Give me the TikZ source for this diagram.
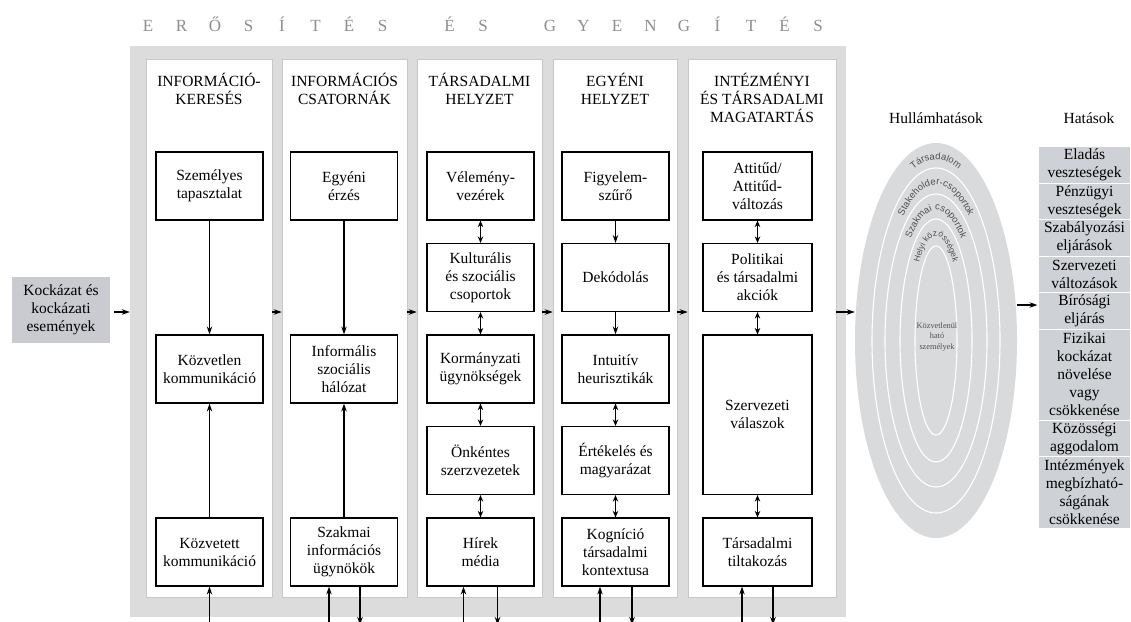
\documentclass[tikz,border=0pt]{standalone}
\usepackage{fontspec}
\setmainfont{Liberation Serif}
\setsansfont{Liberation Sans}
\usetikzlibrary{arrows.meta,decorations.text,shapes.geometric}

\definecolor{bggray}{HTML}{DCDCDC}
\definecolor{panelline}{HTML}{C8C8C8}
\definecolor{titlegray}{HTML}{8E8E8E}
\definecolor{srcfill}{HTML}{C9CBD1}
\definecolor{effectfill}{HTML}{CED1D6}
\definecolor{wavefill}{HTML}{D9DADC}
\definecolor{ringtext}{HTML}{505050}

\tikzset{
  txt/.style={font=\fontsize{15.5}{18}\selectfont, align=center, inner sep=0pt},
  panel/.style={draw=panelline, fill=white, line width=0.6pt, minimum height=538pt, inner sep=0pt},
  stepbox/.style={txt, draw=black, fill=white, line width=1.2pt, minimum width=107pt, minimum height=68pt},
  effect/.style={txt, fill=effectfill, draw=white, line width=1.2pt, minimum width=93pt, anchor=north},
  arr/.style={-{Stealth[length=8pt,width=5.5pt]}, line width=1.1pt},
  darr/.style={{Stealth[length=6.5pt,width=5.5pt]}-{Stealth[length=6.5pt,width=5.5pt]}, line width=1.1pt},
  ring/.style={draw=white, line width=1.1pt},
  ringlabel/.style 2 args={decorate, decoration={text along path, text align=center,
      text={|\sffamily\fontsize{#1}{#1}\selectfont\color{ringtext}|#2}}},
}

\begin{document}
\begin{tikzpicture}[x=1pt,y=-1pt]
\useasboundingbox (0,0) rectangle (1131,621);
\fill[white] (0,0) rectangle (1131,621);

% spaced title above the grey frame
\foreach \ch/\k in {E/0,R/1,Ő/2,S/3,Í/4,T/5,É/6,S/7,É/9,S/10,G/12,Y/13,E/14,N/15,G/16,Í/17,T/18,É/19,S/20}
  \node[txt, font=\fontsize{17}{18}\selectfont, text=titlegray, anchor=base] (t\k) at (148+33.5*\k, 31) {\ch};

% grey frame and the five white columns
\node[fill=bggray, minimum width=716pt, minimum height=571pt, inner sep=0pt] (bg) at (488,331.5) {};
\node[panel, minimum width=126pt] (p1) at (209,328) {};
\node[panel, minimum width=125pt] (p2) at (344.5,328) {};
\node[panel, minimum width=125pt] (p3) at (479.5,328) {};
\node[panel, minimum width=124pt] (p4) at (615,328) {};
\node[panel, minimum width=148pt] (p5) at (762,328) {};

% column headings
\node[txt, anchor=north] (h1) at ([yshift=-14pt]p1.north) {INFORMÁCIÓ-\\KERESÉS};
\node[txt, anchor=north] (h2) at ([yshift=-14pt]p2.north) {INFORMÁCIÓS\\CSATORNÁK};
\node[txt, anchor=north] (h3) at ([yshift=-14pt]p3.north) {TÁRSADALMI\\HELYZET};
\node[txt, anchor=north] (h4) at ([yshift=-14pt]p4.north) {EGYÉNI\\HELYZET};
\node[txt, anchor=north] (h5) at ([yshift=-14pt]p5.north) {INTÉZMÉNYI\\ÉS TÁRSADALMI\\MAGATARTÁS};

% column 1
\node[stepbox] (a1) at (209.5,186) {Személyes\\tapasztalat};
\node[stepbox] (c1) at (209.5,369) {Közvetlen\\kommunikáció};
\node[stepbox] (e1) at (209.5,552) {Közvetett\\kommunikáció};
% column 2
\node[stepbox] (a2) at (344,186) {Egyéni\\érzés};
\node[stepbox] (c2) at (344,369) {Informális\\szociális\\hálózat};
\node[stepbox] (e2) at (344,552) {Szakmai\\információs\\ügynökök};
% column 3
\node[stepbox] (a3) at (480.5,186) {Vélemény-\\vezérek};
\node[stepbox] (b3) at (480.5,277.5) {Kulturális\\és szociális\\csoportok};
\node[stepbox] (c3) at (480.5,369) {Kormányzati\\ügynökségek};
\node[stepbox] (d3) at (480.5,460.5) {Önkéntes\\szerzvezetek};
\node[stepbox] (e3) at (480.5,552) {Hírek\\média};
% column 4
\node[stepbox] (a4) at (615.5,186) {Figyelem-\\szűrő};
\node[stepbox] (b4) at (615.5,277.5) {Dekódolás};
\node[stepbox] (c4) at (615.5,369) {Intuitív\\heurisztikák};
\node[stepbox] (d4) at (615.5,460.5) {Értékelés és\\magyarázat};
\node[stepbox] (e4) at (615.5,552) {Kogníció\\társadalmi\\kontextusa};
% column 5
\node[stepbox, minimum width=109pt] (a5) at (757.5,186) {Attitűd/\\Attitűd-\\változás};
\node[stepbox, minimum width=109pt] (b5) at (757.5,277.5) {Politikai\\és társadalmi\\akciók};
\node[stepbox, minimum width=109pt, minimum height=159.5pt] (c5) at (757.5,414.75) {Szervezeti\\válaszok};
\node[stepbox, minimum width=109pt] (e5) at (757.5,552) {Társadalmi\\tiltakozás};

% links inside the columns
\draw[arr] (a1.south) -- (c1.north);
\draw[arr] (e1.north) -- (c1.south);
\draw[arr] (a2.south) -- (c2.north);
\draw[arr] (e2.north) -- (c2.south);
\draw[darr] (a3.south) -- (b3.north);
\draw[darr] (b3.south) -- (c3.north);
\draw[darr] (c3.south) -- (d3.north);
\draw[darr] (d3.south) -- (e3.north);
\draw[arr] (a4.south) -- (b4.north);
\draw[arr] (b4.south) -- (c4.north);
\draw[darr] (c4.south) -- (d4.north);
\draw[darr] (d4.south) -- (e4.north);
\draw[darr] (a5.south) -- (b5.north);
\draw[darr] (b5.south) -- (c5.north);
\draw[darr] (c5.south) -- (e5.north);

% feedback lines leaving through the bottom edge
\coordinate (low) at (0,640);
\coordinate (lowtip) at (0,625);
\coordinate (u2) at ([xshift=-15pt]e2.south);
\coordinate (d2) at ([xshift=16pt]e2.south);
\coordinate (u3) at ([xshift=-17pt]e3.south);
\coordinate (d3) at ([xshift=17pt]e3.south);
\coordinate (u4) at ([xshift=-15.5pt]e4.south);
\coordinate (d4) at ([xshift=16.5pt]e4.south);
\coordinate (u5) at ([xshift=-15.5pt]e5.south);
\coordinate (d5) at ([xshift=15.5pt]e5.south);
\draw[arr] (e1.south |- low) -- (e1.south);
\draw[arr] (u2 |- low) -- (u2);
\draw[arr] (d2) -- (d2 |- lowtip);
\draw[arr] (u3 |- low) -- (u3);
\draw[arr] (d3) -- (d3 |- lowtip);
\draw[arr] (u4 |- low) -- (u4);
\draw[arr] (d4) -- (d4 |- lowtip);
\draw[arr] (u5 |- low) -- (u5);
\draw[arr] (d5) -- (d5 |- lowtip);

% source box and the flow across the columns
\node[txt, fill=srcfill, minimum width=98pt, minimum height=66pt] (risk) at (61,310) {Kockázat és\\kockázati\\események};
\coordinate (flow) at (0,312);
\draw[arr, shorten <=4pt] (risk.east |- flow) -- (bg.west |- flow);
\draw[arr] (p1.east |- flow) -- (p2.west |- flow);
\draw[arr] (p2.east |- flow) -- (p3.west |- flow);
\draw[arr] (p3.east |- flow) -- (p4.west |- flow);
\draw[arr] (p4.east |- flow) -- (p5.west |- flow);

% ripple effects
\node[txt] (wavehead) at (936,118) {Hullámhatások};
\node[ellipse, fill=wavefill, minimum width=162pt, minimum height=395pt, inner sep=0pt] (wave) at (936,340.5) {};
\begin{scope}[shift={(wave.center)}, x=1pt, y=1pt]
  \draw[ring] (0,0) ellipse [x radius=64, y radius=172.5];
  \draw[ring] (0,0) ellipse [x radius=51, y radius=146.5];
  \draw[ring] (0,0) ellipse [x radius=36, y radius=121.5];
  \draw[ring] (0,0) ellipse [x radius=21, y radius=94.5];
  \path[ringlabel={9.5}{Társadalom}] (180:69.5 and 181) arc[start angle=180, end angle=0, x radius=69.5, y radius=181];
  \path[ringlabel={9.5}{Stakeholder-csoportok}] (180:54.5 and 155.5) arc[start angle=180, end angle=0, x radius=54.5, y radius=155.5];
  \path[ringlabel={9.5}{Szakmai csoportok}] (180:40 and 130.5) arc[start angle=180, end angle=0, x radius=40, y radius=130.5];
  \path[ringlabel={8.5}{Helyi közösségek}] (180:25.5 and 104.5) arc[start angle=180, end angle=0, x radius=25.5, y radius=104.5];
\end{scope}
\node[txt, font=\fontsize{8.3}{10.5}\selectfont, text=ringtext] (core) at (937,337) {Közvetlenül\\ható\\személyek};
\draw[arr] (p5.east |- flow) -- (wave.west |- flow);

% effects
\node[txt] (effhead) at (1089,118) {Hatások};
\node[effect, minimum height=36.5pt] (f1) at (1084.5,146) {Eladás\\veszteségek};
\node[effect, minimum height=36.5pt] (f2) at (1084.5,182.5) {Pénzügyi\\veszteségek};
\node[effect, minimum height=36.5pt] (f3) at (1084.5,219) {Szabályozási\\eljárások};
\node[effect, minimum height=36.5pt] (f4) at (1084.5,255.5) {Szervezeti\\változások};
\node[effect, minimum height=36.5pt] (f5) at (1084.5,292) {Bírósági\\eljárás};
\node[effect, minimum height=91pt] (f6) at (1084.5,328.5) {Fizikai\\kockázat\\növelése\\vagy\\csökkenése};
\node[effect, minimum height=36.5pt] (f7) at (1084.5,419.5) {Közösségi\\aggodalom};
\node[effect, minimum height=72pt] (f8) at (1084.5,456) {Intézmények\\megbízható-\\ságának\\csökkenése};
\coordinate (flowb) at (0,305);
\draw[arr] (wave.east |- flowb) -- (f5.west |- flowb);
\end{tikzpicture}
\end{document}
